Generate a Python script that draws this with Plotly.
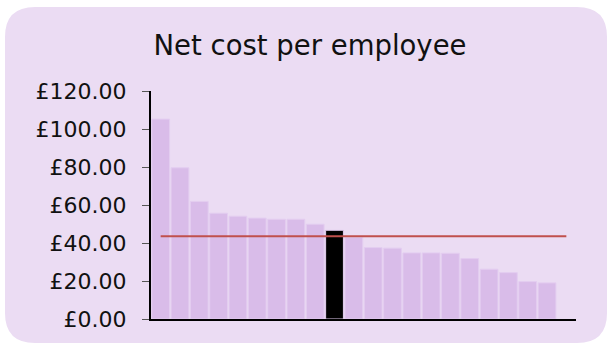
import plotly.graph_objects as go

categories = [f"C{i+1}" for i in range(21)]
values = [105.2, 79.6, 61.9, 55.7, 54.1, 53.1, 52.5, 52.5, 49.9, 46.7,
          43.0, 37.6, 37.3, 34.8, 34.8, 34.6, 31.8, 26.2, 24.4, 19.7, 19.0]
highlight_index = 9
average_value = 43.6
tick_vals = [0, 20, 40, 60, 80, 100, 120]
tick_text = ["£0.00", "£20.00", "£40.00", "£60.00", "£80.00", "£100.00", "£120.00"]

W, H = 612, 344
L, R, T, B = 151, 576, 91, 319

bar_colors = ["#000000" if i == highlight_index else "#D9BCE9" for i in range(len(values))]
line_cats = categories + ["C22"]

fig = go.Figure()
fig.add_trace(go.Bar(x=categories, y=values, marker=dict(color=bar_colors,
                     line=dict(color="#E3CDF0", width=1)), showlegend=False,
                     hoverinfo="y"))
fig.add_trace(go.Scatter(x=line_cats, y=[average_value] * len(line_cats), mode="lines",
                         line=dict(color="#C0504D", width=2), showlegend=False))

def px(x):
    return (x - L) / (R - L)

def py(y):
    return (B - y) / (B - T)

x0, x1, y0, y1, r = 5, 607, 7, 343, 30
path = (f"M {px(x0+r)},{py(y0)} L {px(x1-r)},{py(y0)} Q {px(x1)},{py(y0)} {px(x1)},{py(y0+r)} "
        f"L {px(x1)},{py(y1-r)} Q {px(x1)},{py(y1)} {px(x1-r)},{py(y1)} "
        f"L {px(x0+r)},{py(y1)} Q {px(x0)},{py(y1)} {px(x0)},{py(y1-r)} "
        f"L {px(x0)},{py(y0+r)} Q {px(x0)},{py(y0)} {px(x0+r)},{py(y0)} Z")

fig.update_layout(
    width=W, height=H,
    margin=dict(l=L, r=W - R, t=T, b=H - B, pad=0),
    paper_bgcolor="white",
    plot_bgcolor="rgba(0,0,0,0)",
    bargap=0.08,
    font=dict(family="DejaVu Sans, Verdana, sans-serif", color="#111111"),
    title=dict(text="Net cost per employee", x=(310 - L) / (R - L), xref="paper", xanchor="center",
               y=1 - 45.5 / H, yanchor="middle", font=dict(size=27.5, color="#111111")),
    shapes=[dict(type="path", path=path, xref="paper", yref="paper",
                 fillcolor="#EBDCF3", line=dict(width=0), layer="below")],
    xaxis=dict(showticklabels=False, ticks="", showgrid=False, showline=True,
               linecolor="black", linewidth=2, range=[-0.5, 21.5], zeroline=False,
               fixedrange=True),
    yaxis=dict(range=[0, 120], tickvals=tick_vals, ticktext=tick_text, ticks="outside",
               ticklen=7, tickcolor="#555555", tickwidth=1, showgrid=False, showline=True,
               linecolor="black", linewidth=2, zeroline=False,
               tickfont=dict(size=22, color="#111111"), ticklabelstandoff=11),
)

fig.write_html("out.html", config={"displayModeBar": False},
               post_script="document.body.style.margin='0';")
